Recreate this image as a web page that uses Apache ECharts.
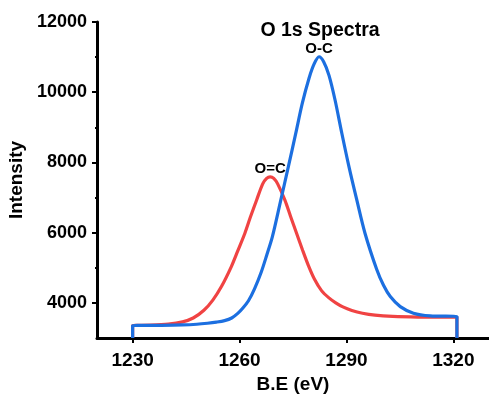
<!DOCTYPE html>
<html>
<head>
<meta charset="utf-8">
<script src="https://cdn.jsdelivr.net/npm/echarts@6/dist/echarts.min.js"></script>
<style>
html,body{margin:0;padding:0;background:#fff;}
#chart{width:489px;height:395px;}
</style>
</head>
<body>
<div id="chart"></div>
<script>
var chartTitle = 'O 1s Spectra';
var xTitle = 'B.E (eV)';
var yTitle = 'Intensity';
var xTicks = [1230, 1260, 1290, 1320];
var xMinorTicks = [1245, 1275, 1305];
var yTicks = [4000, 6000, 8000, 10000, 12000];
var yMinorTicks = [5000, 7000, 9000, 11000];

var redName = 'O=C';
var redBE = [1230,1230,1235,1240,1244,1247,1250,1252.5,1255,1257.7,1259.5,1261.5,1263,1264.8,1266.5,1267.6,1268.6,1269.6,1270.7,1272.7,1274.3,1276,1277.7,1279.3,1281,1283,1285,1287,1289,1291.5,1294.5,1298,1303,1310,1321,1321];
var redIntensity = [3000,3354,3365,3395,3460,3570,3790,4080,4480,5033,5480,5984,6430,6932,7390,7545,7590,7545,7390,6932,6470,5984,5500,5070,4680,4350,4150,4000,3885,3785,3705,3650,3615,3597,3590,3000];
var redPeakIndex = 16;

var blueName = 'O-C';
var blueBE = [1230,1230,1238,1244,1248,1251,1253.5,1255.8,1257.8,1259.5,1261,1262.5,1264.2,1266.1,1267.6,1269.2,1271.4,1273.7,1275.8,1277.6,1279.5,1281,1282.3,1283.6,1285.1,1286.8,1288.7,1290.7,1292.9,1295.2,1298.5,1300.4,1302.3,1305.1,1308.8,1313.5,1321,1321];
var blueIntensity = [3000,3354,3360,3372,3392,3420,3452,3495,3570,3700,3860,4060,4400,4880,5350,5880,6850,7880,8840,9680,10400,10820,11010,10870,10480,9779,8831,7880,6932,5984,4950,4500,4180,3895,3707,3630,3610,3000];
var bluePeakIndex = 22;

var font = 'Liberation Sans';

function build(xs, ys, peak, name) {
  return xs.map(function (x, i) {
    var item = { value: [x, ys[i]] };
    if (i === peak) {
      item.label = { show: true, position: 'top', distance: 0, formatter: name,
        fontFamily: font, fontWeight: 'bold', fontSize: 15, color: '#000' };
    }
    return item;
  });
}

var chart = echarts.init(document.getElementById('chart'), null, { renderer: 'canvas' });
var axisLine = { show: true, lineStyle: { color: '#000', width: 3 } };
var plain = function (v) { return String(v); };
chart.setOption({
  animation: false,
  backgroundColor: '#fff',
  title: {
    text: chartTitle, left: 315, top: 16, textAlign: 'center',
    textStyle: { fontFamily: font, fontWeight: 'bold', fontSize: 19.5, color: '#000' }
  },
  grid: { left: 97, right: 0, top: 22, bottom: 57, containLabel: false, outerBoundsMode: 'none' },
  xAxis: [{
    type: 'value', min: 1220, max: 1330,
    axisLine: axisLine,
    axisTick: { show: true, length: 5, inside: false, lineStyle: { color: '#000', width: 2 }, customValues: xTicks },
    axisLabel: { show: true, customValues: xTicks, formatter: plain, margin: 13, fontFamily: font, fontWeight: 'bold', fontSize: 19, color: '#000' },
    splitLine: { show: false },
    name: xTitle, nameLocation: 'middle', nameGap: 37,
    nameTextStyle: { fontFamily: font, fontWeight: 'bold', fontSize: 19, color: '#000' }
  }, {
    type: 'value', min: 1220, max: 1330, position: 'bottom',
    axisLine: { show: false },
    axisTick: { show: true, length: 2, lineStyle: { color: '#000', width: 2 }, customValues: xMinorTicks },
    axisLabel: { show: false },
    splitLine: { show: false }
  }],
  yAxis: [{
    type: 'value', min: 3000, max: 12000,
    axisLine: axisLine,
    axisTick: { show: true, length: 5, lineStyle: { color: '#000', width: 2 }, customValues: yTicks },
    axisLabel: { show: true, customValues: yTicks, formatter: plain, margin: 10, fontFamily: font, fontWeight: 'bold', fontSize: 18, color: '#000' },
    splitLine: { show: false },
    name: yTitle, nameLocation: 'middle', nameGap: 69, nameRotate: 90,
    nameTextStyle: { fontFamily: font, fontWeight: 'bold', fontSize: 19, color: '#000' }
  }, {
    type: 'value', min: 3000, max: 12000, position: 'left',
    axisLine: { show: false },
    axisTick: { show: true, length: 2, lineStyle: { color: '#000', width: 2 }, customValues: yMinorTicks },
    axisLabel: { show: false },
    splitLine: { show: false }
  }],
  series: [{
    name: redName, type: 'line', xAxisIndex: 0, yAxisIndex: 0,
    data: build(redBE, redIntensity, redPeakIndex, redName),
    showSymbol: true, symbol: 'circle', symbolSize: 0, smooth: 0.3, z: 2,
    lineStyle: { color: '#f04343', width: 3.2 }
  }, {
    name: blueName, type: 'line', xAxisIndex: 0, yAxisIndex: 0,
    data: build(blueBE, blueIntensity, bluePeakIndex, blueName),
    showSymbol: true, symbol: 'circle', symbolSize: 0, smooth: 0.3, z: 3,
    lineStyle: { color: '#1c6fe0', width: 3.2 }
  }]
});
</script>
</body>
</html>
